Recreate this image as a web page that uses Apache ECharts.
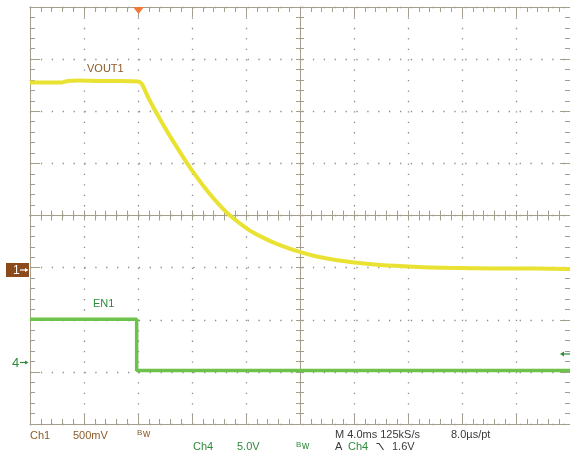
<!DOCTYPE html>
<html><head><meta charset="utf-8">
<script src="https://cdn.jsdelivr.net/npm/echarts@6/dist/echarts.min.js"></script>
<style>html,body{margin:0;padding:0;background:#fff}#c{width:570px;height:454px}</style>
</head><body><div id="c"></div>
<script>
// Time in ms (4.0 ms/div, trigger at 0), voltages in V
const vout1Time = [-8.0, -6.90, -5.65, -5.21, -4.32, -2.85, -1.38, 0.01, 0.31, 0.82, 1.80, 2.54, 3.27, 4.01, 4.99, 5.97, 6.95, 8.18, 9.15, 10.14, 11.12, 12.10, 13.08, 14.55, 16.02, 17.98, 20.43, 22.88, 26.56, 29.50, 32.0];
const vout1Volt = [1.776, 1.776, 1.776, 1.790, 1.795, 1.790, 1.790, 1.785, 1.755, 1.615, 1.385, 1.225, 1.075, 0.930, 0.760, 0.610, 0.485, 0.365, 0.295, 0.235, 0.187, 0.146, 0.112, 0.075, 0.050, 0.026, 0.009, -0.002, -0.008, -0.009, -0.012];
const en1Time = [-8.0, -0.1, -0.1, 32.0];
const en1Volt = [4.14, 4.14, -0.77, -0.77];
const timeRange = [-8, 32];   // 4 ms/div
const ch1Range = [-1.5, 2.5]; // 500 mV/div
const ch4Range = [-5.9, 34.1]; // 5.0 V/div

const GRID = '#a39e8e', DOT = '#8c8c8c';
const YELLOW = '#e9e232', GREEN = '#6cc24a';
const BROWN = '#8b5a28', DGREEN = '#2e8a3a', DARK = '#3a3a3a';
const FONT = '"Liberation Sans", Arial, sans-serif';
const rect = {left: 30, top: 7, width: 544, height: 417};

function borderAxis(pos, extra) {
  return Object.assign({
    type: 'value', gridIndex: 0, position: pos,
    axisLine: {show: true, onZero: false, lineStyle: {color: GRID, width: 1}},
    axisTick: {show: true, inside: true, length: 10, lineStyle: {color: GRID}},
    minorTick: {show: true, splitNumber: 5, length: 5, lineStyle: {color: GRID}},
    axisLabel: {show: false}, splitLine: {show: false}
  }, extra);
}
function centerAxis(grid, min, max, inside, len) {
  return {
    type: 'value', gridIndex: grid, min: min, max: max, interval: 1,
    axisLine: {show: true, onZero: true, lineStyle: {color: GRID, width: 1}},
    axisTick: {show: true, inside: inside, length: len, lineStyle: {color: GRID}},
    axisLabel: {show: false}, splitLine: {show: false}
  };
}

const xAxis = [
  borderAxis('bottom', {min: timeRange[0], max: timeRange[1], interval: 4,
    splitLine: {show: true, lineStyle: {color: DOT, width: 1.3, type: [1.3, 9.125]}}}),
  borderAxis('top', {min: timeRange[0], max: timeRange[1], interval: 4}),
  centerAxis(1, -25, 25, true, 5),
  centerAxis(2, -25, 25, false, 5)
];
const yAxis = [
  borderAxis('left', {min: ch1Range[0], max: ch1Range[1], interval: 0.5,
    splitLine: {show: true, lineStyle: {color: DOT, width: 1.3, type: [1.3, 9.58]}}}),
  borderAxis('right', {min: ch1Range[0], max: ch1Range[1], interval: 0.5}),
  {type: 'value', gridIndex: 0, min: ch4Range[0], max: ch4Range[1], show: false},
  centerAxis(1, -20, 20, true, 4),
  centerAxis(2, -20, 20, false, 4)
];

function txt(text, x, y, color, size) {
  return {type: 'text', x: x, y: y, z: 100, style: {text: text, fill: color, fontSize: size || 11, fontFamily: FONT, align: 'left', verticalAlign: 'middle'}};
}

const graphic = [
  {type: 'polygon', z: 100, shape: {points: [[133, 7], [144, 7], [138.5, 14]]}, style: {fill: '#f07a3a'}},
  {type: 'rect', z: 100, shape: {x: 6, y: 263, width: 23, height: 14}, style: {fill: '#8b4a1c'}},
  txt('1', 13, 270.5, '#ffffff', 12),
  {type: 'polyline', z: 101, shape: {points: [[20, 270], [26, 270]]}, style: {stroke: '#ffffff', lineWidth: 1.2}},
  {type: 'polygon', z: 101, shape: {points: [[25, 268], [28.5, 270], [25, 272]]}, style: {fill: '#ffffff'}},
  txt('4', 12, 363, DGREEN, 13),
  {type: 'polyline', z: 101, shape: {points: [[20, 362.5], [26, 362.5]]}, style: {stroke: DGREEN, lineWidth: 1.2}},
  {type: 'polygon', z: 101, shape: {points: [[25, 360.5], [28.5, 362.5], [25, 364.5]]}, style: {fill: DGREEN}},
  {type: 'polygon', z: 101, shape: {points: [[560, 354], [564, 351.5], [564, 356.5]]}, style: {fill: DGREEN}},
  {type: 'polyline', z: 101, shape: {points: [[562, 354], [570, 354]]}, style: {stroke: DGREEN, lineWidth: 1.2}},
  txt('VOUT1', 87, 68.5, BROWN),
  txt('EN1', 93, 303.5, DGREEN),
  txt('Ch1', 30, 435.5, BROWN),
  txt('500mV', 73, 435.5, BROWN),
  txt('B', 137, 433, BROWN, 8),
  txt('w', 143, 434.5, BROWN, 10),
  txt('Ch4', 193, 447, DGREEN),
  txt('5.0V', 237, 447, DGREEN),
  txt('B', 296, 445, DGREEN, 8),
  txt('w', 302, 446.5, DGREEN, 10),
  txt('M 4.0ms 125kS/s', 335, 434.5, DARK),
  txt('8.0\u00b5s/pt', 451, 434.5, DARK),
  txt('A', 335, 447, DARK),
  txt('Ch4', 348, 447, DGREEN),
  {type: 'polyline', z: 101, shape: {points: [[376.5, 443.5], [379, 443.5], [383.5, 450]]}, style: {stroke: DARK, lineWidth: 1.1}},
  txt('1.6V', 392, 447, DARK)
];

const chart = echarts.init(document.getElementById('c'), null, {renderer: 'canvas'});
chart.setOption({
  animation: false,
  backgroundColor: '#ffffff',
  grid: [Object.assign({}, rect), Object.assign({}, rect), Object.assign({}, rect)],
  xAxis: xAxis,
  yAxis: yAxis,
  series: [
    {name: 'EN1', type: 'line', xAxisIndex: 0, yAxisIndex: 2, showSymbol: false, z: 5,
     data: en1Time.map((t, i) => [t, en1Volt[i]]),
     lineStyle: {color: GREEN, width: 3.5}},
    {name: 'VOUT1', type: 'line', xAxisIndex: 0, yAxisIndex: 0, showSymbol: false, z: 6,
     smooth: 0.25,
     data: vout1Time.map((t, i) => [t, vout1Volt[i]]),
     lineStyle: {color: YELLOW, width: 4}}
  ],
  graphic: graphic
});
</script>
</body></html>
